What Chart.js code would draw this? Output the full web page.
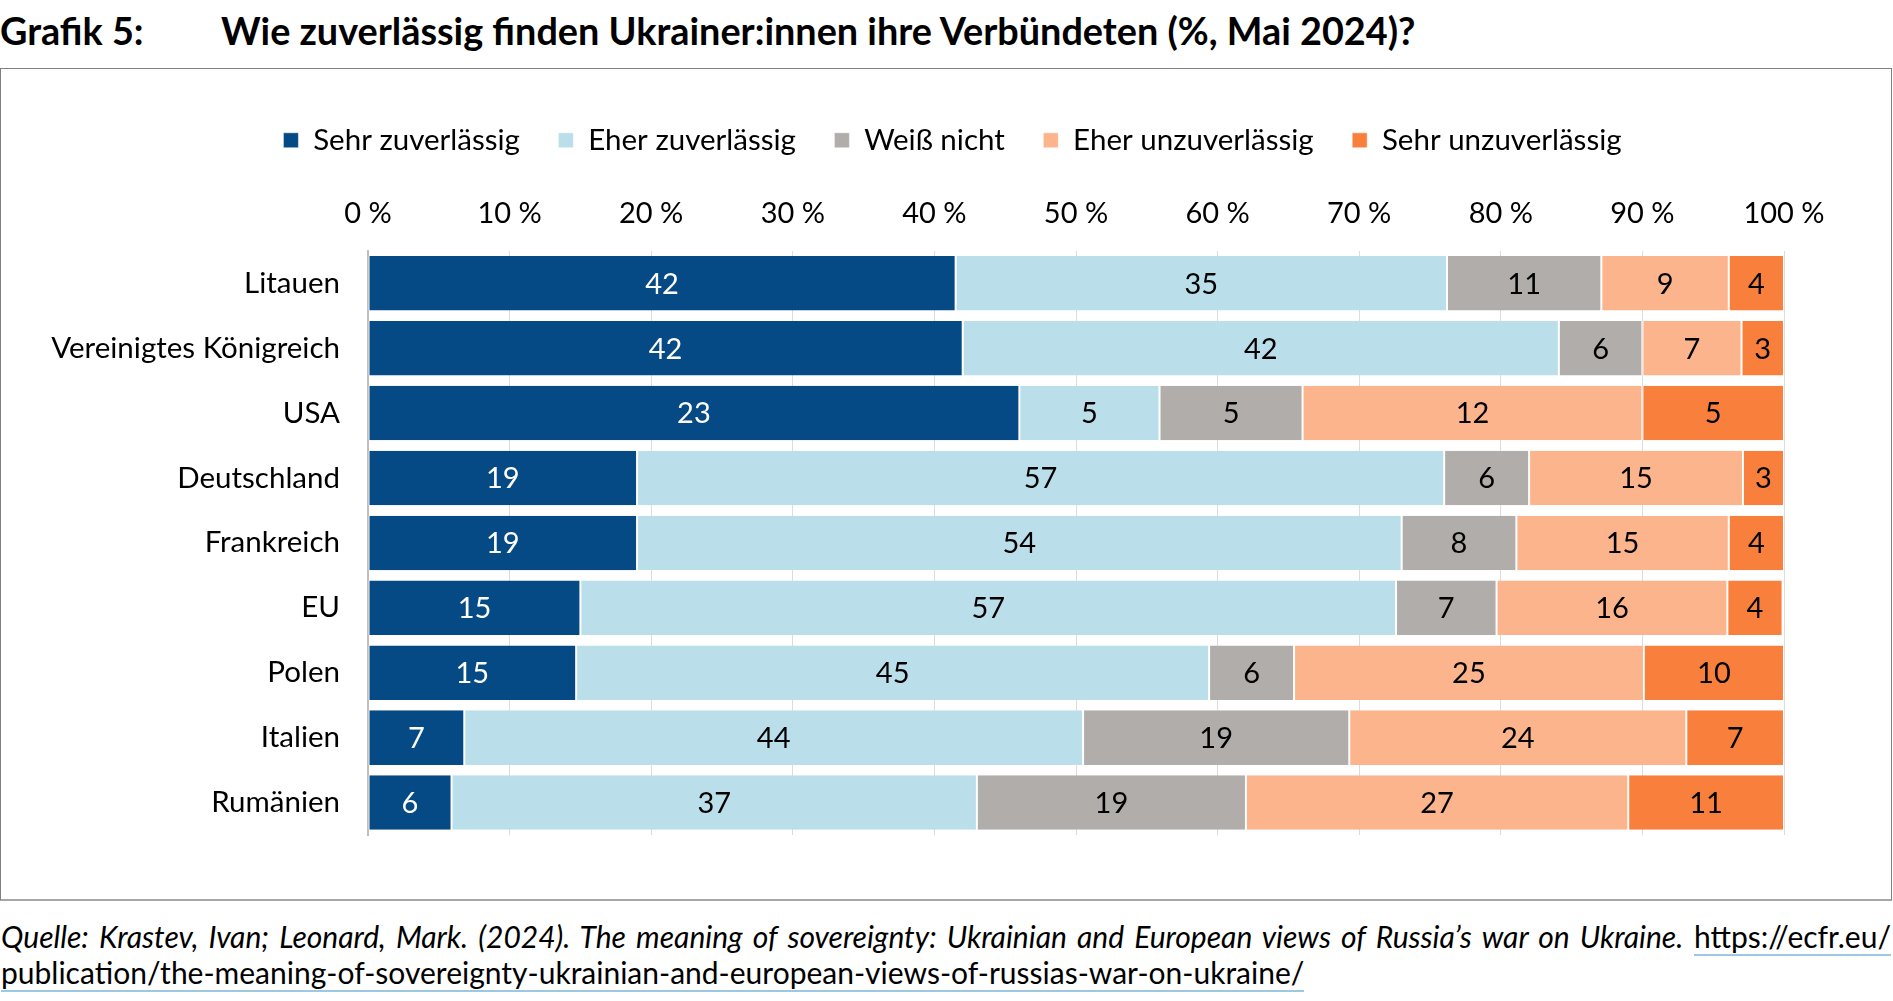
<!DOCTYPE html>
<html lang="de">
<head>
<meta charset="UTF-8">
<title>Grafik 5</title>
<style>
  html, body { margin: 0; padding: 0; background: #fff; }
  body { width: 1893px; height: 1001px; position: relative; overflow: hidden; font-family: Lato, "Open Sans", sans-serif; color: #000; }
  .title { position: absolute; top: 8px; font-weight: bold; font-size: 37.8px; white-space: nowrap; }
  .frame { position: absolute; left: 0; top: 68px; width: 1890px; height: 830px; border: 1px solid #808080; border-bottom: 2px solid #a6a6a6; }
  .frame canvas { position: absolute; left: 0; top: 0; }
  .source { position: absolute; left: 1px; width: 1890px; font-size: 30px; line-height: 36px; white-space: nowrap; }
  .src1 { top: 918px; text-align: justify; text-align-last: justify; }
  .src2 { top: 954px; }
  .link { border-bottom: 2px solid #9dc8e2; }
</style>
</head>
<body>
<div class="title" style="left:0">Grafik 5:</div>
<div class="title" style="left:221px">Wie zuverlässig finden Ukrainer:innen ihre Verbündeten (%, Mai 2024)?</div>
<div class="frame"><canvas id="chart" width="1890" height="830"></canvas></div>
<div class="source src1"><i>Quelle: Krastev, Ivan; Leonard, Mark. (2024). The meaning of sovereignty: Ukrainian and European views of Russia’s war on Ukraine.</i> <span class="link">https://ecfr.eu/</span></div>
<div class="source src2"><span class="link">publication/the-meaning-of-sovereignty-ukrainian-and-european-views-of-russias-war-on-ukraine/</span></div>

<script src="https://cdn.jsdelivr.net/npm/chart.js"></script>
<script>
// categories and series (bar widths as drawn, labels as printed)
const countries = ['Litauen', 'Vereinigtes Königreich', 'USA', 'Deutschland', 'Frankreich', 'EU', 'Polen', 'Italien', 'Rumänien'];
const seriesNames = ['Sehr zuverlässig', 'Eher zuverlässig', 'Weiß nicht', 'Eher unzuverlässig', 'Sehr unzuverlässig'];

const sehrZuv = [41.5, 42, 46, 19, 19, 15, 14.7, 6.8, 5.9];
const eherZuv = [34.7, 42.1, 9.9, 57, 54, 57.6, 44.7, 43.7, 37.1];
const weissNicht = [10.9, 5.9, 10.1, 6, 8.1, 7.1, 6, 18.8, 19];
const eherUnzuv = [9, 7, 24, 15.1, 15, 16.3, 24.7, 23.8, 27];
const sehrUnzuv = [3.9, 3, 10, 2.9, 3.9, 3.9, 9.9, 6.9, 11];

const sehrZuvLbl = [42, 42, 23, 19, 19, 15, 15, 7, 6];
const eherZuvLbl = [35, 42, 5, 57, 54, 57, 45, 44, 37];
const weissNichtLbl = [11, 6, 5, 6, 8, 7, 6, 19, 19];
const eherUnzuvLbl = [9, 7, 12, 15, 15, 16, 25, 24, 27];
const sehrUnzuvLbl = [4, 3, 5, 3, 4, 4, 10, 7, 11];

const xTicks = [0, 10, 20, 30, 40, 50, 60, 70, 80, 90, 100];

const colors = ['#064a85', '#bbdfea', '#b0adab', '#fbb48c', '#f8803c'];
const labelColors = ['#fff', '#000', '#000', '#000', '#000'];
const values = [sehrZuv, eherZuv, weissNicht, eherUnzuv, sehrUnzuv];
const printed = [sehrZuvLbl, eherZuvLbl, weissNichtLbl, eherUnzuvLbl, sehrUnzuvLbl];

const FONT = 'Lato, "Open Sans", sans-serif';

// writes the printed number in the middle of each segment
const segmentLabels = {
  id: 'segmentLabels',
  afterDatasetsDraw(chart) {
    const ctx = chart.ctx;
    ctx.save();
    ctx.font = '29px ' + FONT;
    ctx.textAlign = 'center';
    ctx.textBaseline = 'middle';
    chart.data.datasets.forEach((ds, i) => {
      chart.getDatasetMeta(i).data.forEach((bar, j) => {
        const p = bar.getCenterPoint();
        ctx.fillStyle = labelColors[i];
        ctx.fillText(String(printed[i][j]), p.x, p.y + 1);
      });
    });
    ctx.restore();
  }
};

// the legend is centred on the whole frame, not on the plot
const legendShift = {
  id: 'legendShift',
  afterLayout(chart) {
    chart.legend.left += 60;
    chart.legend.right += 60;
  }
};

new Chart(document.getElementById('chart'), {
  type: 'bar',
  data: {
    labels: countries,
    datasets: seriesNames.map((name, i) => ({
      label: name,
      data: values[i],
      backgroundColor: colors[i],
      borderColor: '#ffffff',
      borderWidth: { left: 1, right: 1, top: 0, bottom: 0 },
      borderSkipped: false,
      barPercentage: 0.84,
      categoryPercentage: 1
    }))
  },
  options: {
    indexAxis: 'y',
    responsive: false,
    animation: false,
    layout: { padding: { left: 0, right: 107, top: 18, bottom: 64 } },
    plugins: {
      tooltip: { enabled: false },
      legend: {
        position: 'top',
        labels: {
          font: { family: FONT, size: 29.5 },
          color: '#000',
          boxWidth: 15,
          boxHeight: 15,
          padding: 38.5
        }
      }
    },
    scales: {
      x: {
        position: 'top',
        stacked: true,
        min: 0,
        max: 100,
        afterBuildTicks(scale) { scale.ticks = xTicks.map(v => ({ value: v })); },
        afterFit(scale) { scale.height += 12; },
        ticks: {
          callback: v => v + ' %',
          font: { family: FONT, size: 29 },
          color: '#000',
          padding: 19.5
        },
        grid: { color: '#dcdcdc', drawTicks: false },
        border: { display: false }
      },
      y: {
        stacked: true,
        afterFit(scale) { scale.width = 367; },
        ticks: {
          font: { family: FONT, size: 29.5 },
          color: '#000',
          padding: 28
        },
        grid: { display: false, drawTicks: false },
        border: { display: true, color: '#bfbfbf', width: 2 }
      }
    }
  },
  plugins: [segmentLabels, legendShift]
});
</script>
</body>
</html>
